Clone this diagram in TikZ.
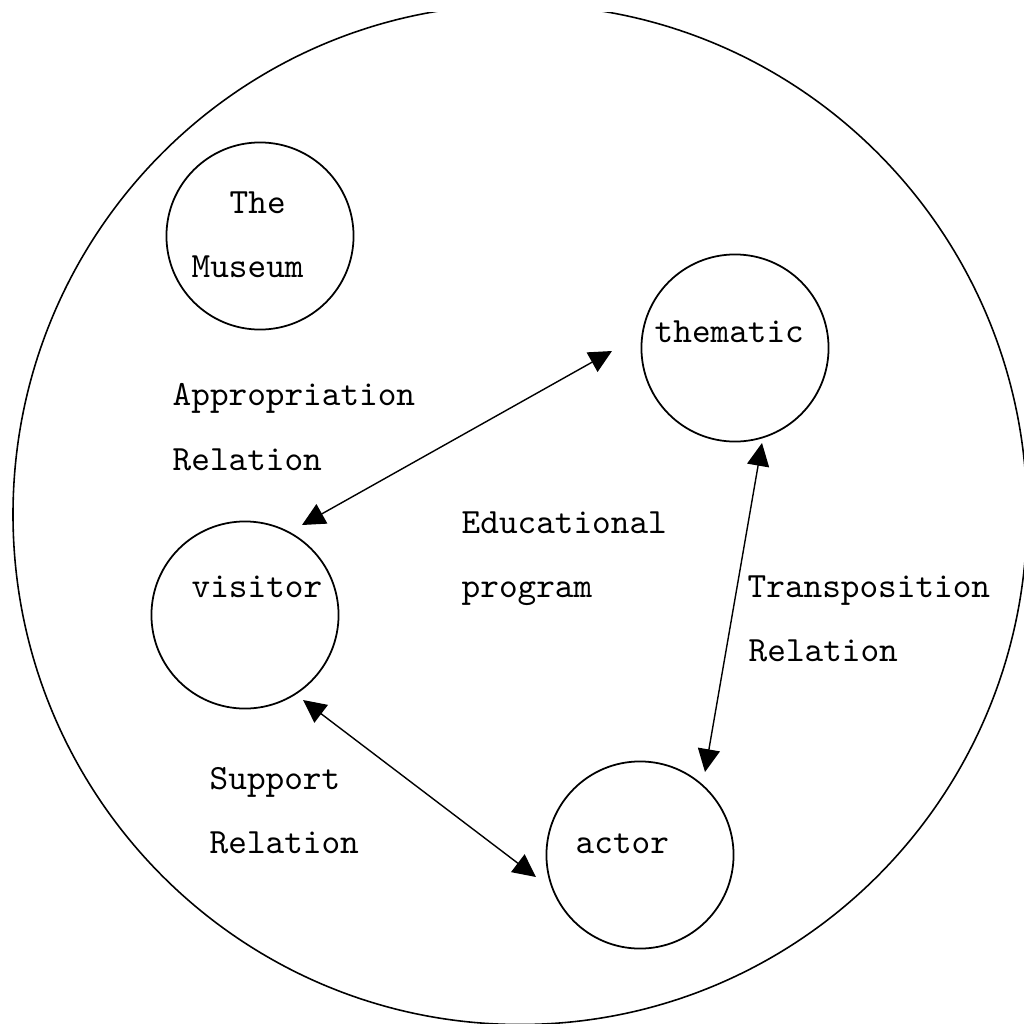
\documentclass[tikz,border=0pt]{standalone}
\usetikzlibrary{arrows.meta}

\begin{document}
\begin{tikzpicture}[x=0.01cm, y=0.01cm, every node/.style={inner sep=0pt},
    place/.style={circle, draw=black, line width=0.5pt, minimum size=1.87cm},
    lbl/.style={anchor=base west, font=\ttfamily\fontsize{10.1}{12}\selectfont},
    link/.style={>={Triangle[length=6.5pt, width=6.3pt]}, <->, line width=0.4pt}]

        % Page frame
        \useasboundingbox (0, 0) rectangle (1024, 1023);

        % Outer circle, cut off at the top
        \begin{scope}
          \clip (0, 0) rectangle (1024, 1010);
          \draw[line width=0.45pt] (520, 508.5) ellipse [x radius=507, y radius=510];
        \end{scope}

        % Inner circles
        \node[place] (mus) at (260, 787) {};
        \node[place] (them) at (735, 675) {};
        \node[place] (vis) at (245, 408) {};
        \node[place] (act) at (640, 168) {};

        % Texts, one node per line
        \foreach \nm/\x/\y/\txt in {the/229/810/The, museum/191/746/Museum,
            thematic/654/681/thematic, approp/172/618/Appropriation, approprel/172/553/Relation,
            educ/461/490/Educational, prog/461/426/program, visitor/191/426/visitor,
            transp/747/426/Transposition, transprel/748/362/Relation,
            supp/209/234/Support, supprel/209/170/Relation, actor/575/170/actor} {
          \node[lbl] (\nm) at (\x, \y) {\txt};
        }

        % Relations between the circles
        \draw[link] ([shift={(-123,-3)}]them.center) -- ([shift={(57,90)}]vis.center);
        \draw[link] ([shift={(27,-95)}]them.center) -- ([shift={(65,83)}]act.center);
        \draw[link] ([shift={(58,-85)}]vis.center) -- ([shift={(-104,-22)}]act.center);

      \end{tikzpicture}
\end{document}
